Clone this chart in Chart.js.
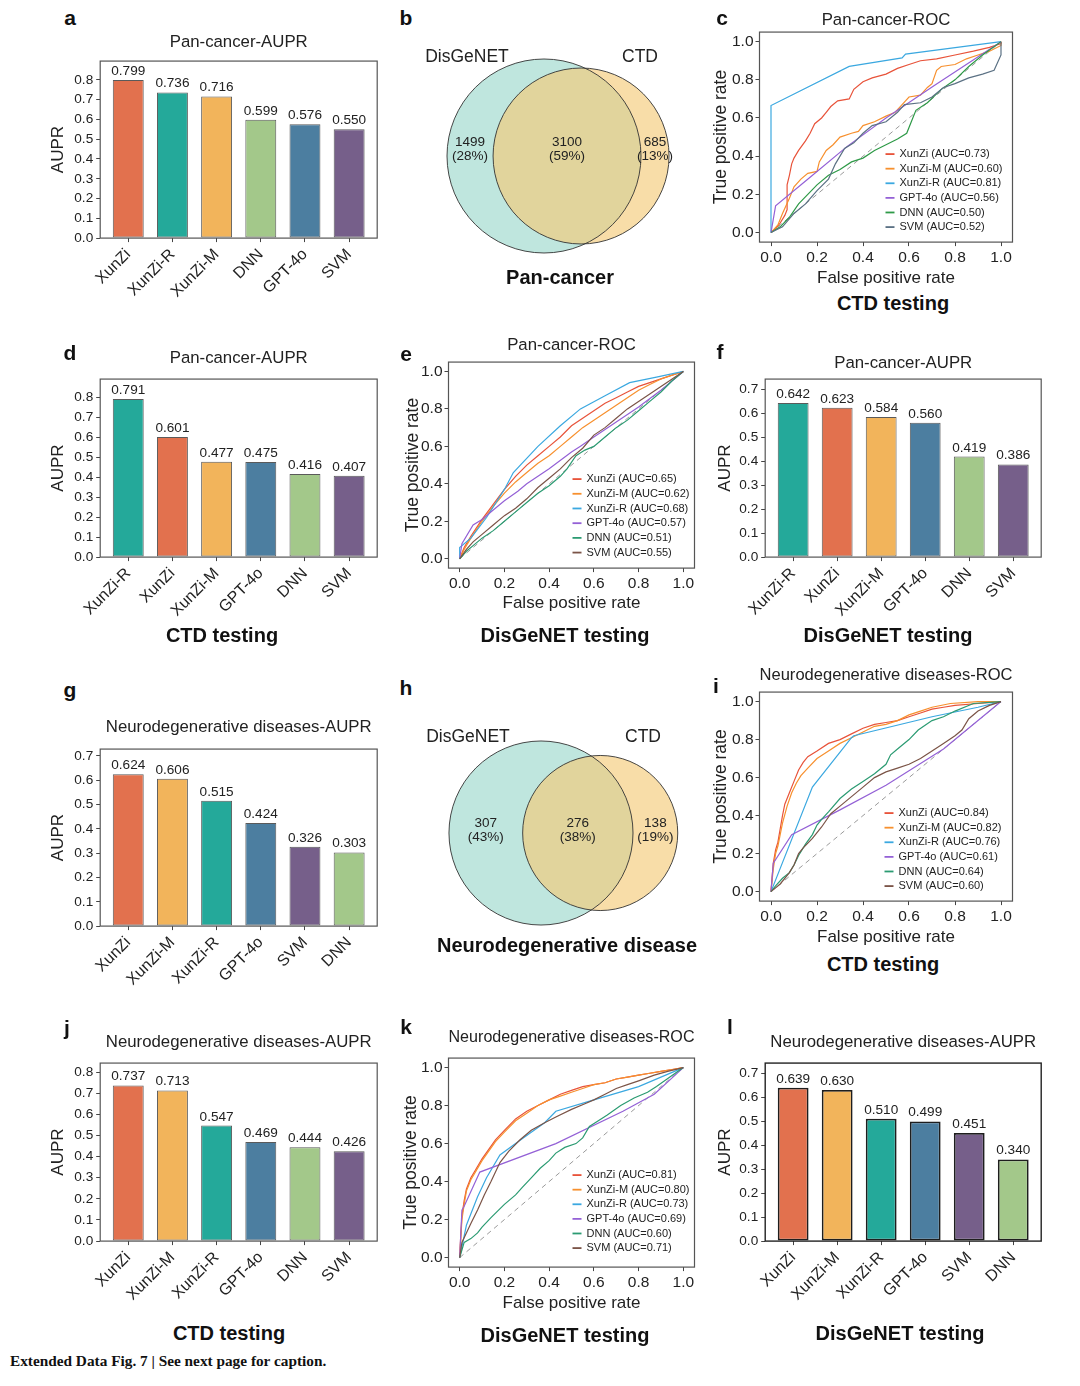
<!DOCTYPE html>
<html>
<head>
<meta charset="utf-8">
<script src="https://cdn.jsdelivr.net/npm/chart.js@4.4.1/dist/chart.umd.min.js"></script>
<style>
  body { margin: 0; background: #fff; }
  #fig { position: relative; width: 1080px; height: 1386px; background: #fff; overflow: hidden;
         font-family: "Liberation Sans", Arial, sans-serif; color: #111; }
  .txt { position: absolute; transform: translate(-50%, -50%); white-space: nowrap; }
  .letter { font-weight: bold; font-size: 21px; }
  .caption { font-weight: bold; font-size: 20px; }
  .setname { font-size: 17.5px; color: #222; }
  .footer { position: absolute; left: 10px; top: 1352px; white-space: nowrap;
            font-family: "Liberation Serif", serif; font-weight: bold; font-size: 15.3px; }
</style>
</head>
<body>
<div id="fig"></div>
<script>
// ---- bar panels (AUPR) ----
const aLabels = ['XunZi', 'XunZi-R', 'XunZi-M', 'DNN', 'GPT-4o', 'SVM'];
const aValues = [0.799, 0.736, 0.716, 0.599, 0.576, 0.550];
const dLabels = ['XunZi-R', 'XunZi', 'XunZi-M', 'GPT-4o', 'DNN', 'SVM'];
const dValues = [0.791, 0.601, 0.477, 0.475, 0.416, 0.407];
const fLabels = ['XunZi-R', 'XunZi', 'XunZi-M', 'GPT-4o', 'DNN', 'SVM'];
const fValues = [0.642, 0.623, 0.584, 0.560, 0.419, 0.386];
const gLabels = ['XunZi', 'XunZi-M', 'XunZi-R', 'GPT-4o', 'SVM', 'DNN'];
const gValues = [0.624, 0.606, 0.515, 0.424, 0.326, 0.303];
const jLabels = ['XunZi', 'XunZi-M', 'XunZi-R', 'GPT-4o', 'DNN', 'SVM'];
const jValues = [0.737, 0.713, 0.547, 0.469, 0.444, 0.426];
const lLabels = ['XunZi', 'XunZi-M', 'XunZi-R', 'GPT-4o', 'SVM', 'DNN'];
const lValues = [0.639, 0.630, 0.510, 0.499, 0.451, 0.340];

// ---- venn panels ----
const vennSets = ['DisGeNET', 'CTD'];
const bCounts = [1499, 3100, 685];   // DisGeNET only, both, CTD only
const hCounts = [307, 276, 138];

// ---- ROC panels ----
const rocModels = ['XunZi', 'XunZi-M', 'XunZi-R', 'GPT-4o', 'DNN', 'SVM'];
const chanceLine = [[0, 0], [1, 1]];

const cAuc = [0.73, 0.60, 0.81, 0.56, 0.50, 0.52];
const cXunZi = [[0,0],[0.02,0.02],[0.04,0.05],[0.06,0.09],[0.07,0.12],[0.07,0.25],[0.08,0.3],[0.09,0.36],[0.1,0.39],[0.12,0.43],[0.15,0.48],[0.17,0.52],[0.19,0.57],[0.22,0.6],[0.24,0.63],[0.26,0.66],[0.29,0.69],[0.34,0.7],[0.36,0.75],[0.4,0.79],[0.44,0.81],[0.5,0.83],[0.55,0.86],[0.6,0.88],[0.65,0.9],[0.72,0.91],[0.8,0.93],[0.88,0.95],[0.95,0.97],[1,0.99],[1,1]];
const cXunZiM = [[0,0],[0.03,0.04],[0.05,0.1],[0.08,0.18],[0.1,0.24],[0.13,0.28],[0.16,0.31],[0.2,0.32],[0.21,0.37],[0.24,0.43],[0.27,0.46],[0.3,0.5],[0.35,0.52],[0.38,0.53],[0.4,0.56],[0.45,0.58],[0.5,0.61],[0.54,0.63],[0.57,0.67],[0.6,0.71],[0.65,0.72],[0.68,0.76],[0.7,0.78],[0.72,0.85],[0.74,0.87],[0.8,0.88],[0.85,0.91],[0.9,0.93],[0.95,0.95],[1,0.98],[1,1]];
const cXunZiR = [[0,0],[0,0.665],[0.34,0.87],[0.57,0.915],[0.585,0.935],[1,1]];
const cGPT = [[0,0],[0.02,0.14],[0.17,0.29],[0.33,0.45],[0.5,0.6],[0.71,0.77],[1,1]];
const cDNN = [[0,0],[0.04,0.03],[0.08,0.08],[0.12,0.15],[0.16,0.2],[0.2,0.25],[0.25,0.3],[0.3,0.33],[0.35,0.37],[0.4,0.39],[0.45,0.43],[0.5,0.46],[0.55,0.49],[0.59,0.52],[0.61,0.58],[0.63,0.64],[0.68,0.68],[0.74,0.75],[0.8,0.8],[0.86,0.87],[0.92,0.93],[1,1]];
const cSVM = [[0,0],[0.05,0.03],[0.1,0.1],[0.15,0.15],[0.2,0.22],[0.25,0.28],[0.28,0.36],[0.32,0.44],[0.36,0.47],[0.4,0.52],[0.44,0.56],[0.5,0.58],[0.55,0.63],[0.58,0.67],[0.65,0.68],[0.7,0.71],[0.75,0.76],[0.8,0.78],[0.86,0.81],[0.92,0.83],[0.97,0.85],[1,0.93],[1,1]];

const eAuc = [0.65, 0.62, 0.68, 0.57, 0.51, 0.55];
const eXunZi = [[0,0],[0.02,0.06],[0.05,0.12],[0.1,0.21],[0.15,0.29],[0.2,0.37],[0.25,0.44],[0.3,0.5],[0.35,0.55],[0.4,0.6],[0.45,0.65],[0.5,0.71],[0.55,0.75],[0.6,0.79],[0.65,0.83],[0.7,0.86],[0.75,0.89],[0.8,0.92],[0.85,0.94],[0.9,0.96],[0.95,0.98],[1,1]];
const eXunZiM = [[0,0],[0.02,0.05],[0.05,0.11],[0.1,0.2],[0.15,0.28],[0.2,0.35],[0.25,0.41],[0.3,0.46],[0.35,0.51],[0.4,0.55],[0.45,0.6],[0.5,0.65],[0.55,0.7],[0.6,0.74],[0.65,0.78],[0.7,0.82],[0.75,0.86],[0.8,0.9],[0.85,0.93],[0.9,0.96],[0.95,0.98],[1,1]];
const eXunZiR = [[0,0],[0,0.06],[0.05,0.11],[0.12,0.22],[0.2,0.37],[0.24,0.46],[0.35,0.6],[0.45,0.71],[0.54,0.8],[0.65,0.87],[0.76,0.94],[0.88,0.97],[1,1]];
const eGPT = [[0,0],[0.01,0.08],[0.06,0.18],[0.1,0.21],[0.15,0.26],[0.2,0.31],[0.26,0.36],[0.3,0.4],[0.4,0.48],[0.5,0.57],[0.54,0.6],[0.6,0.65],[0.7,0.73],[0.8,0.81],[0.9,0.9],[1,1]];
const eDNN = [[0,0],[0.03,0.04],[0.06,0.07],[0.1,0.11],[0.15,0.15],[0.2,0.2],[0.25,0.25],[0.3,0.3],[0.35,0.35],[0.4,0.39],[0.45,0.44],[0.48,0.48],[0.52,0.55],[0.56,0.58],[0.6,0.6],[0.65,0.65],[0.7,0.7],[0.75,0.74],[0.8,0.79],[0.85,0.84],[0.9,0.89],[0.95,0.95],[1,1]];
const eSVM = [[0,0],[0.03,0.05],[0.06,0.09],[0.1,0.13],[0.15,0.18],[0.2,0.23],[0.25,0.27],[0.3,0.32],[0.35,0.38],[0.4,0.43],[0.45,0.48],[0.5,0.54],[0.55,0.59],[0.6,0.66],[0.65,0.7],[0.7,0.75],[0.75,0.8],[0.8,0.84],[0.85,0.88],[0.9,0.92],[0.95,0.96],[1,1]];

const iAuc = [0.84, 0.82, 0.76, 0.61, 0.64, 0.60];
const iXunZi = [[0,0],[0.005,0.08],[0.01,0.15],[0.02,0.22],[0.03,0.26],[0.04,0.33],[0.05,0.4],[0.06,0.46],[0.08,0.52],[0.1,0.58],[0.12,0.64],[0.14,0.68],[0.16,0.71],[0.2,0.74],[0.25,0.78],[0.3,0.8],[0.35,0.83],[0.4,0.86],[0.45,0.88],[0.5,0.89],[0.55,0.9],[0.6,0.92],[0.65,0.94],[0.7,0.96],[0.75,0.97],[0.8,0.98],[0.9,0.99],[1,1]];
const iXunZiM = [[0,0],[0.005,0.06],[0.01,0.12],[0.02,0.2],[0.03,0.24],[0.04,0.3],[0.05,0.36],[0.07,0.45],[0.09,0.52],[0.11,0.57],[0.13,0.61],[0.16,0.65],[0.2,0.7],[0.25,0.74],[0.3,0.78],[0.35,0.81],[0.4,0.84],[0.45,0.87],[0.5,0.88],[0.55,0.9],[0.6,0.93],[0.65,0.95],[0.7,0.97],[0.78,0.99],[0.9,1],[1,1]];
const iXunZiR = [[0,0],[0.18,0.55],[0.35,0.81],[0.36,0.82],[0.7,0.92],[0.9,0.97],[1,1]];
const iGPT = [[0,0],[0.01,0.15],[0.09,0.3],[0.3,0.43],[0.5,0.56],[0.75,0.75],[1,1]];
const iDNN = [[0,0],[0.02,0.03],[0.05,0.07],[0.08,0.1],[0.1,0.14],[0.12,0.19],[0.15,0.25],[0.18,0.3],[0.2,0.35],[0.22,0.38],[0.25,0.42],[0.3,0.49],[0.35,0.54],[0.4,0.58],[0.45,0.62],[0.5,0.67],[0.52,0.72],[0.55,0.75],[0.6,0.8],[0.64,0.85],[0.7,0.9],[0.75,0.92],[0.8,0.95],[0.88,0.99],[1,1]];
const iSVM = [[0,0],[0.04,0.04],[0.08,0.1],[0.1,0.14],[0.12,0.2],[0.14,0.23],[0.18,0.28],[0.22,0.34],[0.26,0.41],[0.3,0.45],[0.35,0.5],[0.4,0.55],[0.45,0.6],[0.5,0.63],[0.55,0.65],[0.6,0.67],[0.65,0.7],[0.7,0.74],[0.75,0.78],[0.8,0.82],[0.83,0.85],[0.86,0.91],[0.9,0.95],[0.95,0.98],[1,1]];

const kAuc = [0.81, 0.80, 0.73, 0.69, 0.60, 0.71];
const kXunZi = [[0,0],[0.005,0.12],[0.01,0.22],[0.02,0.3],[0.03,0.36],[0.05,0.42],[0.07,0.46],[0.1,0.52],[0.13,0.57],[0.16,0.62],[0.2,0.67],[0.25,0.73],[0.3,0.77],[0.35,0.8],[0.4,0.83],[0.45,0.86],[0.5,0.88],[0.55,0.9],[0.6,0.91],[0.65,0.92],[0.7,0.94],[0.75,0.95],[0.8,0.96],[0.85,0.97],[0.9,0.98],[0.95,0.99],[1,1]];
const kXunZiM = [[0,0],[0.005,0.1],[0.01,0.2],[0.02,0.28],[0.03,0.35],[0.05,0.41],[0.07,0.45],[0.1,0.51],[0.13,0.56],[0.16,0.61],[0.2,0.66],[0.25,0.72],[0.3,0.76],[0.35,0.8],[0.4,0.83],[0.45,0.85],[0.5,0.87],[0.55,0.89],[0.6,0.91],[0.65,0.92],[0.7,0.94],[0.75,0.95],[0.8,0.96],[0.85,0.97],[0.9,0.98],[0.95,0.99],[1,1]];
const kXunZiR = [[0,0],[0.03,0.17],[0.08,0.32],[0.12,0.42],[0.18,0.54],[0.25,0.6],[0.32,0.66],[0.38,0.71],[0.43,0.77],[0.6,0.83],[0.8,0.9],[1,1]];
const kGPT = [[0,0],[0.01,0.25],[0.02,0.27],[0.09,0.45],[0.43,0.6],[0.73,0.77],[0.87,0.86],[1,1]];
const kDNN = [[0,0],[0.01,0.04],[0.02,0.08],[0.05,0.1],[0.08,0.13],[0.1,0.16],[0.14,0.21],[0.2,0.28],[0.25,0.33],[0.28,0.37],[0.32,0.42],[0.36,0.47],[0.4,0.51],[0.43,0.55],[0.47,0.58],[0.52,0.6],[0.55,0.63],[0.58,0.69],[0.62,0.72],[0.66,0.75],[0.72,0.8],[0.78,0.84],[0.84,0.87],[0.88,0.9],[0.94,0.95],[1,1]];
const kSVM = [[0,0],[0.01,0.08],[0.03,0.13],[0.05,0.18],[0.08,0.25],[0.11,0.33],[0.14,0.4],[0.18,0.5],[0.22,0.56],[0.27,0.62],[0.32,0.67],[0.38,0.71],[0.43,0.74],[0.5,0.78],[0.56,0.81],[0.6,0.83],[0.65,0.86],[0.7,0.89],[0.75,0.91],[0.8,0.93],[0.87,0.96],[0.93,0.98],[1,1]];

// ---- styling ----
const modelColor = {
  'XunZi': '#E2714E', 'XunZi-R': '#24A99A', 'XunZi-M': '#F2B45B',
  'GPT-4o': '#4C7EA0', 'DNN': '#A3C88A', 'SVM': '#765F8A'
};
const rocColorsC = ['#E8533A', '#F7902E', '#3BA8E0', '#9461D6', '#2F9A48', '#5B7184'];
const rocColors = ['#E8533A', '#F7902E', '#3BA8E0', '#9461D6', '#2B9B72', '#7B5447'];
const FONT = '"Liberation Sans", Arial, sans-serif';
const TITLE_LH = 16.8 * 1.2;
const AXIS_LH = 17 * 1.2;

Chart.defaults.font.family = FONT;
Chart.defaults.color = '#222';

const fig = document.getElementById('fig');

function addCanvas(left, top, width, height) {
  const div = document.createElement('div');
  div.style.cssText = `position:absolute;left:${left}px;top:${top}px;width:${width}px;height:${height}px`;
  const cv = document.createElement('canvas');
  div.appendChild(cv);
  fig.appendChild(div);
  return cv;
}

function addText(text, x, y, cls) {
  const el = document.createElement('div');
  el.className = 'txt ' + cls;
  el.style.left = x + 'px';
  el.style.top = y + 'px';
  el.textContent = text;
  fig.appendChild(el);
}

// box around the plotting area, like matplotlib spines
const framePlugin = {
  id: 'frame',
  afterDraw(chart, args, opts) {
    const { ctx, chartArea: a } = chart;
    ctx.save();
    ctx.strokeStyle = opts.color || '#555';
    ctx.lineWidth = opts.width || 1.2;
    ctx.strokeRect(a.left, a.top, a.right - a.left, a.bottom - a.top);
    ctx.restore();
  }
};

// numbers on top of the bars
const barValuePlugin = {
  id: 'barValues',
  afterDatasetsDraw(chart) {
    const { ctx } = chart;
    const meta = chart.getDatasetMeta(0);
    const pts = chart.data.datasets[0].data;
    ctx.save();
    ctx.font = '13.6px ' + FONT;
    ctx.fillStyle = '#222';
    ctx.textAlign = 'center';
    ctx.textBaseline = 'bottom';
    meta.data.forEach((bar, i) => ctx.fillText(pts[i].y.toFixed(3), bar.x, bar.y - 2));
    ctx.restore();
  }
};

// legend inside the ROC plot (lower right)
const rocLegendPlugin = {
  id: 'rocLegend',
  afterDatasetsDraw(chart, args, opts) {
    const { ctx, chartArea } = chart;
    const x0 = chartArea.left + opts.dx;
    let y = chartArea.top + opts.dy;
    ctx.save();
    ctx.font = '11px ' + FONT;
    ctx.textBaseline = 'middle';
    ctx.fillStyle = '#222';
    chart.data.datasets.forEach(ds => {
      if (!ds.label) return;
      ctx.strokeStyle = ds.borderColor;
      ctx.lineWidth = 1.8;
      ctx.beginPath();
      ctx.moveTo(x0, y);
      ctx.lineTo(x0 + 9, y);
      ctx.stroke();
      ctx.fillText(ds.label, x0 + 14, y);
      y += opts.step;
    });
    ctx.restore();
  }
};

// counts and percentages in the venn regions
const vennTextPlugin = {
  id: 'vennText',
  afterDatasetsDraw(chart, args, opts) {
    const { ctx, scales } = chart;
    const y0 = scales.y.getPixelForValue(0);
    ctx.save();
    ctx.font = '13.5px ' + FONT;
    ctx.fillStyle = '#222';
    ctx.textAlign = 'center';
    ctx.textBaseline = 'middle';
    opts.items.forEach(it => {
      const x = scales.x.getPixelForValue(it.x);
      ctx.fillText(String(it.count), x, y0 + opts.dy[0]);
      ctx.fillText('(' + Math.round(it.count / opts.total * 100) + '%)', x, y0 + opts.dy[1]);
    });
    ctx.restore();
  }
};

const tickGrid = { drawOnChartArea: false, offset: false, tickLength: 4, color: '#444', lineWidth: 1 };

function barChart(p) {
  const [l, t, r, b] = p.box;
  const top = p.titleY - TITLE_LH / 2 - 2;
  const left = p.yTitleX - AXIS_LH / 2 - 2;
  const bh = 78, rw = 25;
  const cv = addCanvas(left, top, r - left + rw, b - top + bh);
  new Chart(cv, {
    type: 'bar',
    data: {
      datasets: [{
        data: p.values.map((v, i) => ({ x: i, y: v })),
        backgroundColor: p.labels.map(n => modelColor[n]),
        borderColor: p.edge || '#5a5a5a',
        borderWidth: p.edgeWidth || 1,
        borderSkipped: false,
        barPercentage: 0.7,
        categoryPercentage: 1
      }]
    },
    options: {
      animation: false,
      events: [],
      responsive: true,
      maintainAspectRatio: false,
      layout: { padding: { right: rw } },
      plugins: {
        legend: { display: false },
        tooltip: { enabled: false },
        title: {
          display: true, text: p.title, fullSize: false, color: '#222',
          font: { size: 16.8, weight: 'normal' },
          padding: { top: 2, bottom: t - top - TITLE_LH - 2 }
        },
        frame: { color: p.frame || '#555', width: p.frameWidth || 1.2 }
      },
      scales: {
        x: {
          type: 'linear', min: -0.635, max: 5.635, offset: false,
          afterFit: s => { s.height = bh; },
          grid: tickGrid,
          border: { display: false },
          ticks: {
            stepSize: 1, includeBounds: false, autoSkip: false,
            minRotation: 45, maxRotation: 45, padding: 3,
            color: '#222', font: { size: 16 },
            callback: v => p.labels[v]
          }
        },
        y: {
          min: 0, max: p.yMax,
          afterFit: s => { s.width = l - left; },
          grid: tickGrid,
          border: { display: false },
          ticks: {
            stepSize: 0.1, includeBounds: false, padding: 3,
            color: '#222', font: { size: 13.6 },
            callback: v => v.toFixed(1)
          },
          title: {
            display: true, text: 'AUPR', color: '#222',
            font: { size: 17 }, padding: { top: 2, bottom: 0 }
          }
        }
      }
    },
    plugins: [framePlugin, barValuePlugin]
  });
}

function rocChart(p) {
  const [l, t, r, b] = p.box;
  const top = p.titleY - TITLE_LH / 2 - 2;
  const left = p.yTitleX - 17.5 * 1.2 / 2 - 2;
  const bottom = p.xTitleY + AXIS_LH / 2 + 2;
  const rw = 25;
  const cv = addCanvas(left, top, r - left + rw, bottom - top);
  const datasets = rocModels.map((name, i) => ({
    label: `${name} (AUC=${p.auc[i].toFixed(2)})`,
    data: p.curves[i],
    borderColor: p.colors[i],
    borderWidth: 1.2,
    pointRadius: 0,
    order: 10 - i
  }));
  datasets.push({
    data: chanceLine, borderColor: '#9a9a9a', borderWidth: 1,
    borderDash: [5, 4], pointRadius: 0, order: 20
  });
  const tickFmt = { color: '#222', font: { size: 15.5 }, includeBounds: false, stepSize: 0.2, padding: 2, callback: v => v.toFixed(1) };
  new Chart(cv, {
    type: 'line',
    data: { datasets },
    options: {
      animation: false,
      events: [],
      responsive: true,
      maintainAspectRatio: false,
      layout: { padding: { right: rw } },
      plugins: {
        legend: { display: false },
        tooltip: { enabled: false },
        title: {
          display: true, text: p.title, fullSize: false, color: '#222',
          font: { size: 16.8, weight: 'normal' },
          padding: { top: 2, bottom: t - top - TITLE_LH - 2 }
        },
        frame: { color: '#555', width: 1.2 },
        rocLegend: p.legend
      },
      scales: {
        x: {
          type: 'linear', min: -0.05, max: 1.05,
          afterFit: s => { s.height = bottom - b; },
          grid: tickGrid,
          border: { display: false },
          ticks: tickFmt,
          title: { display: true, text: 'False positive rate', color: '#222', font: { size: 17 }, padding: { top: 0, bottom: 2 } }
        },
        y: {
          type: 'linear', min: -0.05, max: 1.05,
          afterFit: s => { s.width = l - left; },
          grid: tickGrid,
          border: { display: false },
          ticks: tickFmt,
          title: { display: true, text: 'True positive rate', color: '#222', font: { size: 17.5 }, padding: { top: 2, bottom: 0 } }
        }
      }
    },
    plugins: [framePlugin, rocLegendPlugin]
  });
}

function lensArea(r1, r2, d) {
  if (d >= r1 + r2) return 0;
  if (d <= Math.abs(r1 - r2)) return Math.PI * Math.min(r1, r2) ** 2;
  const a1 = Math.acos((d * d + r1 * r1 - r2 * r2) / (2 * d * r1));
  const a2 = Math.acos((d * d + r2 * r2 - r1 * r1) / (2 * d * r2));
  const k = Math.sqrt((-d + r1 + r2) * (d + r1 - r2) * (d - r1 + r2) * (d + r1 + r2));
  return r1 * r1 * a1 + r2 * r2 * a2 - k / 2;
}

// distance between centres so that the lens area equals the shared count
function centreDistance(r1, r2, overlap) {
  let lo = Math.abs(r1 - r2), hi = r1 + r2;
  for (let n = 0; n < 60; n++) {
    const mid = (lo + hi) / 2;
    if (lensArea(r1, r2, mid) > overlap) lo = mid; else hi = mid;
  }
  return (lo + hi) / 2;
}

function vennChart(p) {
  const [aOnly, both, bOnly] = p.counts;
  const r1 = Math.sqrt((aOnly + both) / Math.PI);
  const r2 = Math.sqrt((bOnly + both) / Math.PI);
  const d = centreDistance(r1, r2, both);
  // bubble radii are in pixels: convert with the x scale's pixels per unit
  const ppu = p.rect[2] / (p.xRange[1] - p.xRange[0]);
  const cv = addCanvas(...p.rect);
  new Chart(cv, {
    type: 'bubble',
    data: {
      datasets: [
        { data: [{ x: 0, y: 0, r: r1 * ppu }], backgroundColor: 'rgb(191,230,222)', borderWidth: 0, order: 2 },
        { data: [{ x: d, y: 0, r: r2 * ppu }], backgroundColor: 'rgba(244,202,119,0.64)', borderWidth: 0, order: 1 },
        {
          data: [{ x: 0, y: 0, r: r1 * ppu }, { x: d, y: 0, r: r2 * ppu }],
          backgroundColor: 'rgba(0,0,0,0)', borderColor: '#333', borderWidth: 0.9, order: 0
        }
      ]
    },
    options: {
      animation: false,
      events: [],
      responsive: true,
      maintainAspectRatio: false,
      clip: false,
      layout: { autoPadding: false, padding: 0 },
      plugins: {
        legend: { display: false },
        tooltip: { enabled: false },
        vennText: {
          total: aOnly + both + bOnly,
          dy: p.textDy,
          items: [
            { x: (-r1 + d - r2) / 2, count: aOnly },
            { x: (d - r2 + r1) / 2, count: both },
            { x: (r1 + d + r2) / 2, count: bOnly }
          ]
        }
      },
      scales: {
        x: { type: 'linear', display: false, bounds: 'data', min: p.xRange[0], max: p.xRange[1] },
        y: { type: 'linear', display: false, bounds: 'data', min: p.yRange[0], max: p.yRange[1] }
      }
    },
    plugins: [vennTextPlugin]
  });
}

// ---- row 1 ----
barChart({ box: [100, 61, 377, 238], titleY: 42, yTitleX: 58, title: 'Pan-cancer-AUPR', yMax: 0.895, labels: aLabels, values: aValues });
vennChart({ rect: [430, 40, 270, 230], xRange: [-44.97, 61.54], yRange: [-44.97, 45.76], counts: bCounts, textDy: [-14, 0] });
rocChart({ box: [759, 32, 1012, 242], titleY: 20, yTitleX: 721, xTitleY: 278, title: 'Pan-cancer-ROC',
  auc: cAuc, colors: rocColorsC, curves: [cXunZi, cXunZiM, cXunZiR, cGPT, cDNN, cSVM], legend: { dx: 126, dy: 122, step: 14.6 } });

// ---- row 2 ----
barChart({ box: [100, 379, 377, 557], titleY: 358, yTitleX: 58, title: 'Pan-cancer-AUPR', yMax: 0.89, labels: dLabels, values: dValues });
rocChart({ box: [448, 362, 694, 568], titleY: 345, yTitleX: 413, xTitleY: 603, title: 'Pan-cancer-ROC',
  auc: eAuc, colors: rocColors, curves: [eXunZi, eXunZiM, eXunZiR, eGPT, eDNN, eSVM], legend: { dx: 124, dy: 117, step: 14.7 } });
barChart({ box: [765, 379, 1041, 557], titleY: 363, yTitleX: 725, title: 'Pan-cancer-AUPR', yMax: 0.742, labels: fLabels, values: fValues });

// ---- row 3 ----
barChart({ box: [100, 749, 377, 926], titleY: 727, yTitleX: 58, title: 'Neurodegenerative diseases-AUPR', yMax: 0.728, labels: gLabels, values: gValues });
vennChart({ rect: [430, 715, 270, 225], xRange: [-16.43, 23.54], yRange: [-15.84, 17.47], counts: hCounts, textDy: [-10, 4] });
rocChart({ box: [759, 692, 1012, 901], titleY: 675, yTitleX: 721, xTitleY: 937, title: 'Neurodegenerative diseases-ROC',
  auc: iAuc, colors: rocColors, curves: [iXunZi, iXunZiM, iXunZiR, iGPT, iDNN, iSVM], legend: { dx: 125, dy: 121, step: 14.6 } });

// ---- row 4 ----
barChart({ box: [100, 1063, 377, 1241], titleY: 1042, yTitleX: 58, title: 'Neurodegenerative diseases-AUPR', yMax: 0.843, labels: jLabels, values: jValues });
rocChart({ box: [448, 1058, 694, 1267], titleY: 1037, yTitleX: 411, xTitleY: 1303, title: 'Neurodegenerative diseases-ROC',
  auc: kAuc, colors: rocColors, curves: [kXunZi, kXunZiM, kXunZiR, kGPT, kDNN, kSVM], legend: { dx: 124, dy: 117, step: 14.6 } });
barChart({ box: [765, 1063, 1041, 1241], titleY: 1042, yTitleX: 725, title: 'Neurodegenerative diseases-AUPR', yMax: 0.742, labels: lLabels, values: lValues,
  edge: '#1e1e1e', edgeWidth: 1.8, frame: '#222', frameWidth: 1.4 });

// ---- text around the panels ----
[['a', 70, 18], ['b', 406, 18], ['c', 722, 18], ['d', 70, 353], ['e', 406, 354], ['f', 720, 352],
 ['g', 70, 690], ['h', 406, 688], ['i', 716, 686], ['j', 67, 1028], ['k', 406, 1027], ['l', 730, 1027]]
  .forEach(([s, x, y]) => addText(s, x, y, 'letter'));

[['Pan-cancer', 560, 277], ['CTD testing', 893, 303], ['CTD testing', 222, 635], ['DisGeNET testing', 565, 635],
 ['DisGeNET testing', 888, 635], ['Neurodegenerative disease', 567, 945], ['CTD testing', 883, 964],
 ['CTD testing', 229, 1333], ['DisGeNET testing', 565, 1335], ['DisGeNET testing', 900, 1333]]
  .forEach(([s, x, y]) => addText(s, x, y, 'caption'));

addText(vennSets[0], 467, 56, 'setname');
addText(vennSets[1], 640, 56, 'setname');
addText(vennSets[0], 468, 736, 'setname');
addText(vennSets[1], 643, 736, 'setname');

const foot = document.createElement('div');
foot.className = 'footer';
foot.textContent = 'Extended Data Fig. 7 | See next page for caption.';
fig.appendChild(foot);
</script>
</body>
</html>
